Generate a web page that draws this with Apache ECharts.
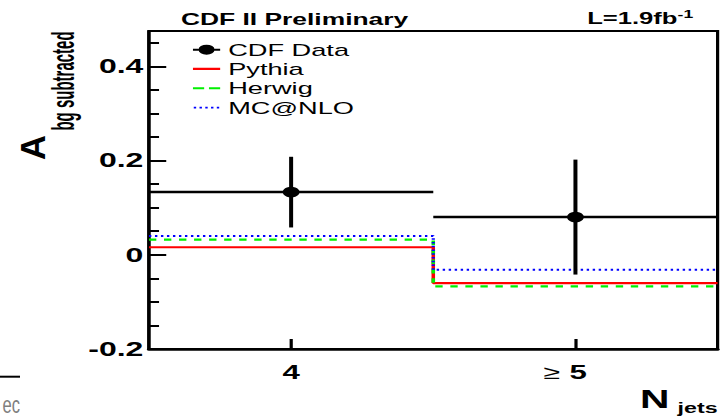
<!DOCTYPE html>
<html><head><meta charset="utf-8">
<script src="https://cdn.jsdelivr.net/npm/echarts@6/dist/echarts.min.js"></script>
<style>
html,body{margin:0;padding:0;background:#fff;overflow:hidden;width:721px;height:416px;}
#wrap{width:721px;height:416px;overflow:hidden;position:relative;background:#fff;}
#chart{width:450.625px;height:416px;transform:scaleX(1.6);transform-origin:0 0;position:absolute;left:0;top:0;}
</style></head><body><div id="wrap"><div id="chart"></div></div>
<script>
// ---- data ----
const xCategories = ['4', '≥5'];
const cdfData  = [0.133, 0.080];
const cdfError = [0.075, 0.122];
const pythia   = [0.016, -0.060];
const herwig   = [0.032, -0.067];
const mcatnlo  = [0.040, -0.032];
const yTickValues = [-0.2, 0, 0.2, 0.4];
const yTickLabels = ['-0.2', '0', '0.2', '0.4'];
const yMinorTicks = [-0.15, -0.1, -0.05, 0.05, 0.1, 0.15, 0.25, 0.3, 0.35, 0.45];

const FF = "'Liberation Sans', Arial, Helvetica, sans-serif";

function stepData(vals) {
  const pts = [];
  vals.forEach((v, i) => { pts.push([i, v], [i + 1, v]); });
  return pts;
}
const xCenters = xCategories.map((c, i) => i + 0.5);

// legend icons (17 x 10 boxes); tiny corner marks keep the bounding box
const BOX = ' M0,0 L0.01,0 L0,0.01 Z M17,10 L16.99,10 L17,9.99 Z';
const iconData = 'path://M0,4 L17,4 L17,6 L0,6 Z M3.5,5 A5,5 0 1,1 13.5,5 A5,5 0 1,1 3.5,5 Z';
const iconSolid = 'path://M0,3.9 L17,3.9 L17,6.1 L0,6.1 Z' + BOX;
const iconDash = 'path://M0,4 L7,4 L7,6 L0,6 Z M10,4 L17,4 L17,6 L10,6 Z' + BOX;
let dots = '';
for (let k = 0; k < 5; k++) { const x0 = 0.5 + k * 3.6; dots += `M${x0},4.1 L${x0 + 1.5},4.1 L${x0 + 1.5},5.9 L${x0},5.9 Z `; }
const iconDot = 'path://' + dots + BOX;

const chart = echarts.init(document.getElementById('chart'), null, {renderer: 'svg'});
chart.setOption({
  animation: false,
  backgroundColor: '#fff',
  grid: {left: 93.1, right: 2.5, top: 31, bottom: 67, show: true, borderColor: '#000', borderWidth: 2,
         backgroundColor: 'transparent', containLabel: false, outerBoundsMode: 'none'},
  xAxis: [{
    type: 'value', min: 0, max: xCategories.length, position: 'bottom',
    axisLine: {show: true, onZero: false, lineStyle: {color: '#000', width: 2.5}},
    axisTick: {show: true, inside: true, length: 10, customValues: xCenters, lineStyle: {color: '#000', width: 2}},
    axisLabel: {
      customValues: xCenters, margin: 13.5,
      formatter: v => {
        const s = xCategories[Math.floor(v)];
        if (s.startsWith('≥')) return '{g|≥}{c|' + s.slice(1) + '}';
        return '{b|' + s + '}';
      },
      rich: {
        g: {fontSize: 19, fontWeight: 'normal', fontFamily: FF, color: '#000', padding: [0, 6, 0, 0]},
        b: {fontSize: 19.5, fontWeight: 'bold', fontFamily: FF, color: '#000'},
        c: {fontSize: 19.5, fontWeight: 'bold', fontFamily: FF, color: '#000', padding: [0, 13, 0, 0]}
      }
    },
    splitLine: {show: false}
  }],
  yAxis: [{
    type: 'value', min: -0.2, max: 0.475, position: 'left',
    axisLine: {show: true, onZero: false, lineStyle: {color: '#000', width: 2}},
    axisTick: {show: true, inside: true, length: 10.8, customValues: yTickValues, lineStyle: {color: '#000', width: 2}},
    axisLabel: {
      customValues: yTickValues, margin: 3.5, color: '#000', fontSize: 20, fontWeight: 'bold', fontFamily: FF,
      formatter: v => {
        const k = yTickValues.findIndex(t => Math.abs(t - v) < 1e-9);
        return k >= 0 ? yTickLabels[k] : '';
      }
    },
    splitLine: {show: false}
  }, {
    type: 'value', min: -0.2, max: 0.475, position: 'left', offset: 0,
    axisLine: {show: false},
    axisTick: {show: true, inside: true, length: 6.3, customValues: yMinorTicks, lineStyle: {color: '#000', width: 2}},
    axisLabel: {show: false},
    splitLine: {show: false}
  }],
  legend: {
    orient: 'vertical', left: 120.6, top: 40, padding: 0, itemWidth: 17, itemHeight: 10, itemGap: 0,
    selectedMode: false,
    textStyle: {fontSize: 17, fontFamily: FF, color: '#000', lineHeight: 19.3},
    data: [
      {name: 'CDF Data', icon: iconData},
      {name: 'Pythia', icon: iconSolid},
      {name: 'Herwig', icon: iconDash},
      {name: 'MC@NLO', icon: iconDot}
    ]
  },
  series: [
    {type: 'line', name: 'Pythia', data: stepData(pythia), symbol: 'none', z: 2,
     lineStyle: {color: '#ff0000', width: 2.2, type: 'solid'}, itemStyle: {color: '#ff0000'}},
    {type: 'line', name: 'Herwig', data: stepData(herwig), symbol: 'none', z: 3,
     lineStyle: {color: '#00f000', width: 2.2, type: [4.6, 4.8]}, itemStyle: {color: '#00f000'}},
    {type: 'line', name: 'MC@NLO', data: stepData(mcatnlo), symbol: 'none', z: 4,
     lineStyle: {color: '#0000ff', width: 2, type: [1.5, 2.25]}, itemStyle: {color: '#0000ff'}},
    {type: 'custom', name: 'CDF Data', z: 5,
     data: cdfData.map((v, i) => [i, v, cdfError[i]]),
     encode: {x: 0, y: 1},
     itemStyle: {color: '#000'},
     renderItem: function (params, api) {
       const i = api.value(0), v = api.value(1), e = api.value(2);
       const l = api.coord([i, v]), r = api.coord([i + 1, v]), c = api.coord([i + 0.5, v]);
       const t = api.coord([i + 0.5, v + e]), b = api.coord([i + 0.5, v - e]);
       const st = {stroke: '#000', lineWidth: 2.5};
       return {type: 'group', children: [
         {type: 'line', shape: {x1: l[0], y1: l[1], x2: r[0], y2: r[1]}, style: st},
         {type: 'line', shape: {x1: t[0], y1: t[1], x2: b[0], y2: b[1]}, style: st},
         {type: 'circle', shape: {cx: c[0], cy: c[1], r: 5.3}, style: {fill: '#000'}}
       ]};
     }}
  ],
  graphic: [
    {type: 'text', x: 184.1, y: 19, style: {text: 'CDF II Preliminary', fontSize: 16.5, fontWeight: 'bold', fontFamily: FF, fill: '#000', align: 'center', verticalAlign: 'middle'}},
    {type: 'text', x: 367, y: 19, style: {text: '{m|L=1.9fb}{s|-1}', align: 'left', verticalAlign: 'middle', fill: '#000',
      rich: {m: {fontSize: 16, fontWeight: 'bold', fontFamily: FF, fill: '#000'},
             s: {fontSize: 11, fontWeight: 'bold', fontFamily: FF, fill: '#000', padding: [0, 0, 9, 0]}}}},
    {type: 'text', x: 20.3, y: 147.5, rotation: Math.PI / 2, scaleX: 1.154, scaleY: 0.726,
     style: {text: 'A', fontSize: 30, fontWeight: 'bold', fontFamily: FF, fill: '#000', align: 'center', verticalAlign: 'middle'}},
    {type: 'text', x: 39.5, y: 81, rotation: Math.PI / 2, scaleX: 1, scaleY: 1.3,
     style: {text: 'bg subtracted', fontSize: 15, fontWeight: 'bold', fontFamily: FF, fill: '#000', align: 'center', verticalAlign: 'middle'}},
    {type: 'text', x: 400, y: 399, style: {text: 'N', fontSize: 25.5, fontWeight: 'bold', fontFamily: FF, fill: '#000', align: 'left', verticalAlign: 'middle'}},
    {type: 'text', x: 423.5, y: 407.5, style: {text: 'jets', fontSize: 14.5, fontWeight: 'bold', fontFamily: FF, fill: '#000', align: 'left', verticalAlign: 'middle'}},
    {type: 'text', x: 12.5, y: 404.5, scaleX: 0.45, style: {text: 'ec', fontSize: 23, fontFamily: FF, fill: '#7f7f7f', align: 'right', verticalAlign: 'middle'}},
    {type: 'line', shape: {x1: 0, y1: 376.7, x2: 12.5, y2: 376.7}, style: {stroke: '#000', lineWidth: 2}}
  ]
});
</script></body></html>
